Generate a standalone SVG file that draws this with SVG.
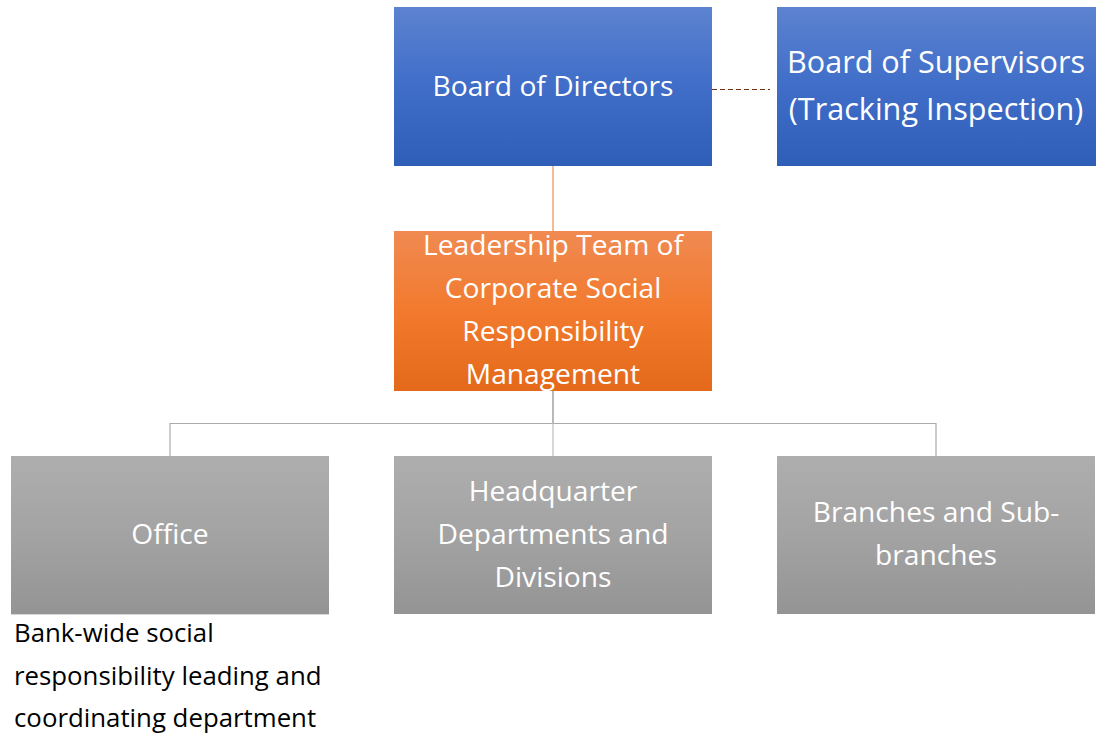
<svg xmlns="http://www.w3.org/2000/svg" width="1096" height="736" viewBox="0 0 1096 736">
  <defs>
    <linearGradient id="gBlue" x1="0" y1="0" x2="0" y2="1">
      <stop offset="0" stop-color="#5D83D0"/>
      <stop offset="0.5" stop-color="#3F6DC8"/>
      <stop offset="1" stop-color="#2F5EB9"/>
    </linearGradient>
    <linearGradient id="gOrange" x1="0" y1="0" x2="0" y2="1">
      <stop offset="0" stop-color="#F08A52"/>
      <stop offset="0.5" stop-color="#F27A2E"/>
      <stop offset="1" stop-color="#E4691A"/>
    </linearGradient>
    <linearGradient id="gGray" x1="0" y1="0" x2="0" y2="1">
      <stop offset="0" stop-color="#AEAEAE"/>
      <stop offset="0.5" stop-color="#A3A3A3"/>
      <stop offset="1" stop-color="#949494"/>
    </linearGradient>
  </defs>
  <style>
    .lbl { font-family: "Open Sans", "Noto Sans", sans-serif; font-size: 28.2px; fill: #FFFFFF; text-anchor: middle; }
    .big { font-size: 30.6px; }
    .note { font-family: "Open Sans", "Noto Sans", sans-serif; font-size: 25.8px; fill: #000000; }
    .blue { fill: url(#gBlue); }
    .orange { fill: url(#gOrange); }
    .gray { fill: url(#gGray); }
  </style>
  <rect width="1096" height="736" fill="#FFFFFF"/>

  <g id="connectors" fill="none">
    <line x1="712" y1="89.5" x2="770" y2="89.5" stroke="#6E2E10" stroke-width="1" stroke-dasharray="5,3"/>
    <line x1="553" y1="166" x2="553" y2="231" stroke="#F2A378" stroke-width="1.5"/>
    <line x1="553" y1="391" x2="553" y2="423" stroke="#A0A0A0" stroke-width="1.5"/>
    <polyline points="170,456 170,423.5 936,423.5 936,456" stroke="#ABABAB" stroke-width="1.2"/>
    <line x1="553" y1="423" x2="553" y2="456" stroke="#BDBDBD" stroke-width="1.2"/>
  </g>

  <g id="board-directors">
    <rect class="blue" x="394" y="7" width="318" height="159"/>
    <text class="lbl" x="553" y="96">Board of Directors</text>
  </g>

  <g id="board-supervisors">
    <rect class="blue" x="777" y="7" width="319" height="159"/>
    <text class="lbl big" x="936" y="73">Board of Supervisors</text>
    <text class="lbl big" x="936" y="120">(Tracking Inspection)</text>
  </g>

  <g id="leadership-team">
    <rect class="orange" x="394" y="231" width="318" height="160"/>
    <text class="lbl" x="553" y="255">Leadership Team of</text>
    <text class="lbl" x="553" y="298">Corporate Social</text>
    <text class="lbl" x="553" y="341">Responsibility</text>
    <text class="lbl" x="553" y="384">Management</text>
  </g>

  <g id="office">
    <rect x="11" y="613" width="318" height="2" fill="#D6D6D6"/>
    <rect class="gray" x="11" y="456" width="318" height="158"/>
    <text class="lbl" x="170" y="544">Office</text>
  </g>

  <g id="hq-departments">
    <rect class="gray" x="394" y="456" width="318" height="158"/>
    <text class="lbl" x="553" y="501">Headquarter</text>
    <text class="lbl" x="553" y="544">Departments and</text>
    <text class="lbl" x="553" y="587">Divisions</text>
  </g>

  <g id="branches">
    <rect class="gray" x="777" y="456" width="318" height="158"/>
    <text class="lbl" x="936" y="522">Branches and Sub-</text>
    <text class="lbl" x="936" y="565">branches</text>
  </g>

  <g id="office-note">
    <text class="note" x="14" y="642">Bank-wide social</text>
    <text class="note" x="14" y="685">responsibility leading and</text>
    <text class="note" x="14" y="727">coordinating department</text>
  </g>
</svg>
